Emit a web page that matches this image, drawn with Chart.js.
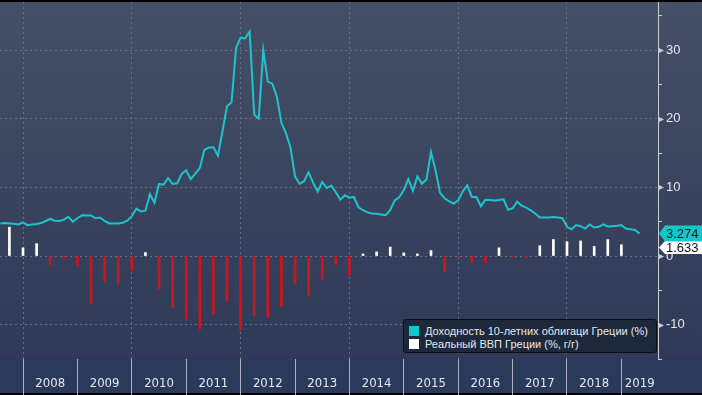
<!DOCTYPE html>
<html>
<head>
<meta charset="utf-8">
<script src="https://cdn.jsdelivr.net/npm/chart.js@4/dist/chart.umd.min.js"></script>
<style>
html,body{margin:0;padding:0;background:#000;}
#wrap{position:relative;width:702px;height:395px;overflow:hidden;}
canvas{display:block;}
#legend{position:absolute;left:403px;top:319px;width:254px;height:34px;background:#1e283b;border:1px solid #0b0e15;border-radius:3px;box-sizing:border-box;padding:4px 0 0 5px;font:11px "Liberation Sans",Arial,sans-serif;color:#e6e8ec;}
#legend .row{display:flex;align-items:center;height:13px;white-space:nowrap;}
#legend .sw{width:10px;height:10px;margin-right:6px;flex:none;}
</style>
</head>
<body>
<div id="wrap">
<canvas id="c" width="702" height="395"></canvas>
<div id="legend">
  <div class="row"><span class="sw" style="background:#12c8ca"></span><span>Доходность 10-летних облигаци Греции (%)</span></div>
  <div class="row"><span class="sw" style="background:#ffffff"></span><span>Реальный ВВП Греции (%, г/г)</span></div>
</div>
</div>
<script>
// ---- data ----
const monthStart = [2007, 8];   // first monthly observation (Aug 2007)
const yields = [
  4.75, 4.8, 4.75, 4.7, 4.6,
  4.9, 4.5, 4.6, 4.65, 4.8, 5.1, 5.4, 5.15, 5.1, 5.3,
  5.7, 5.0, 5.5, 5.95, 5.9, 5.9, 5.5, 5.6, 5.1, 4.75,
  4.75, 4.75, 4.85, 5.15, 5.8, 6.9, 6.5, 6.6, 9.0, 7.75,
  10.5, 10.4, 11.35, 10.5, 10.6, 11.95, 12.5, 11.2, 12.0, 12.8,
  15.45, 15.8, 15.85, 14.6, 18.15, 21.8, 22.4, 30.3, 31.8, 31.7,
  32.7, 20.6, 20.0, 30.0, 25.4, 25.1, 23.2, 19.4, 17.9, 15.8,
  11.6, 10.5, 10.9, 12.2, 10.65, 9.4, 10.8, 9.9, 10.25, 9.3,
  8.2, 8.85, 8.5, 8.6, 7.1, 6.7, 6.35, 6.2, 6.15, 6.05,
  5.95, 6.7, 8.1, 8.55, 9.6, 11.2, 9.5, 11.6, 10.55, 11.15,
  15.15, 12.5, 9.2, 8.4, 7.95, 7.65, 8.1, 9.4, 10.3, 8.6,
  8.6, 7.25, 8.2, 8.15, 8.1, 8.15, 8.25, 6.75, 6.95, 7.9,
  7.35, 7.05, 6.65, 6.2, 5.6, 5.6, 5.6, 5.7, 5.6, 5.5,
  4.25, 3.9, 4.5, 4.35, 4.0, 4.6, 4.15, 4.25, 4.6, 4.3,
  4.35, 4.4, 4.5, 4.0, 3.9, 3.8, 3.274
];
const quarterStart = [2007, 4];  // first quarterly observation (2007 Q4)
const gdp = [
  4.2, 1.2, 1.8, -1.3, -0.35, -1.4, -7.0, -3.8, -4.1, -2.1,
  0.5, -4.8, -7.5, -9.3, -10.6, -8.4, -6.6, -10.8, -8.7, -8.9,
  -7.3, -4.1, -5.85, -3.4, -1.2, -2.8, 0.3, 0.6, 1.3, 0.45,
  0.3, 0.8, -2.3, -0.2, -0.8, -0.9, 1.2, -0.2, -0.2, 1.5,
  2.4, 2.1, 2.2, 1.4, 2.4, 1.633
];
const yearLabels = ['2008','2009','2010','2011','2012','2013','2014','2015','2016','2017','2018','2019'];
const yTickValues = [-15,-10,-5,0,5,10,15,20,25,30,35];
const yMajor = [-10,0,10,20,30];

// categories (dates) built from the starting period
const months = yields.map((_, i) => {
  const t = monthStart[0]*12 + (monthStart[1]-1) + i;
  return Math.floor(t/12) + '-' + String(t%12 + 1).padStart(2,'0');
});
const quarters = gdp.map((_, i) => {
  const t = quarterStart[0]*4 + (quarterStart[1]-1) + i;
  return Math.floor(t/4) + '-Q' + (t%4 + 1);
});
const monthX = m => { const [y, mo] = m.split('-').map(Number); return y + (mo-1)/12; };
const quarterX = q => { const [y, qq] = q.split('-Q').map(Number); return y + (qq-1)/4; };

const X_MIN = 2007.577, X_MAX = 2019.673;
const GRID = '#66728a';
const AXIS = '#c9cdd5';
const TXT = '#e4e7ec';

const yearBounds = yearLabels.map(Number);
const labelPos = yearBounds.map(y => y === 2019 ? (2019 + X_MAX)/2 : y + 0.5);
const xTicks = [...yearBounds.map(v => ({value:v, kind:'b'})), ...labelPos.map((v,i) => ({value:v, kind:'l', label:yearLabels[i]}))]
  .sort((a,b) => a.value - b.value);
const isBound = v => yearBounds.some(b => Math.abs(b - v) < 1e-6);

const bgPlugin = {
  id: 'bg',
  beforeDraw(chart) {
    const ctx = chart.ctx, W = chart.width, H = chart.height, b = chart.chartArea.bottom;
    ctx.save();
    const g = ctx.createLinearGradient(0, 0, 0, b);
    g.addColorStop(0, '#454f66');
    g.addColorStop(1, '#2e3a57');
    ctx.fillStyle = g; ctx.fillRect(0, 0, W, b);
    ctx.fillStyle = '#2a3a5a'; ctx.fillRect(0, b, W, H - b);
    ctx.fillStyle = '#000'; ctx.fillRect(0, 0, W, 2); ctx.fillRect(0, H - 2, W, 2);
    ctx.restore();
  },
  afterDraw(chart) {
    const ctx = chart.ctx, ys = chart.scales.y, x0 = chart.chartArea.right;
    ctx.save();
    // major tick arrows
    ctx.fillStyle = AXIS;
    yMajor.forEach(v => {
      const p = Math.round(ys.getPixelForValue(v)) + 0.5;
      ctx.beginPath(); ctx.moveTo(x0, p - 3); ctx.lineTo(x0 + 6, p); ctx.lineTo(x0, p + 3); ctx.closePath(); ctx.fill();
    });
    // last value tags
    const tag = (yc, h, fill, text, color) => {
      ctx.fillStyle = fill;
      ctx.beginPath();
      ctx.moveTo(x0 + 1, yc); ctx.lineTo(x0 + 7, yc - h/2); ctx.lineTo(chart.width, yc - h/2);
      ctx.lineTo(chart.width, yc + h/2); ctx.lineTo(x0 + 7, yc + h/2); ctx.closePath(); ctx.fill();
      ctx.fillStyle = color; ctx.font = '13px "Liberation Sans", Arial, sans-serif';
      ctx.textBaseline = 'middle'; ctx.textAlign = 'left';
      ctx.fillText(text, x0 + 8, yc + 1);
    };
    const lastY = yields[yields.length - 1], lastG = gdp[gdp.length - 1];
    const yc1 = ys.getPixelForValue(lastY);
    const yc2 = Math.max(ys.getPixelForValue(lastG), yc1 + 14);
    tag(yc2, 13, '#ffffff', lastG.toFixed(3), '#111');
    tag(yc1, 16, '#16c6c9', lastY.toFixed(3), '#0b1d26');
    ctx.restore();
  }
};

new Chart(document.getElementById('c'), {
  type: 'bar',
  data: {
    datasets: [
      {
        type: 'line',
        label: 'Доходность 10-летних облигаци Греции (%)',
        data: months.map((m, i) => ({x: monthX(m), y: yields[i]})),
        borderColor: '#1ec4cc',
        borderWidth: 2,
        pointRadius: 0,
        tension: 0,
        fill: false,
        order: 1
      },
      {
        type: 'bar',
        label: 'Реальный ВВП Греции (%, г/г)',
        data: quarters.map((q, i) => ({x: quarterX(q), y: gdp[i]})),
        backgroundColor: c => (c.raw && c.raw.y >= 0) ? '#ffffff' : '#d0141d',
        borderWidth: 0,
        barThickness: 2,
        grouped: false,
        order: 2
      }
    ]
  },
  options: {
    responsive: false,
    animation: false,
    layout: {padding: {top: 2, left: 0, right: 0, bottom: 0}},
    plugins: {legend: {display: false}, tooltip: {enabled: false}},
    scales: {
      x: {
        type: 'linear', position: 'bottom', min: X_MIN, max: X_MAX, offset: false,
        afterBuildTicks: s => { s.ticks = xTicks.map(t => ({value: t.value})); },
        afterFit: s => { s.height = 36; s.paddingLeft = 0; s.paddingRight = 0; },
        ticks: {
          autoSkip: false, maxRotation: 0, minRotation: 0, padding: -19,
          color: TXT, font: {family: '"Liberation Sans Narrow", "DejaVu Sans Condensed", "Liberation Sans", sans-serif', size: 13},
          callback: v => { const t = xTicks.find(t => Math.abs(t.value - v) < 1e-6); return t && t.kind === 'l' ? t.label : ''; }
        },
        grid: {
          offset: false,
          drawOnChartArea: true, drawTicks: true, tickLength: 36, tickWidth: 1, tickBorderDash: [],
          lineWidth: 1,
          color: c => (c.tick && isBound(c.tick.value) && Math.round(c.tick.value) % 2 === 0) ? GRID : 'transparent',
          tickColor: c => (c.tick && isBound(c.tick.value)) ? '#aeb3bd' : 'transparent'
        },
        border: {display: false, dash: [2, 3]}
      },
      y: {
        type: 'linear', position: 'right', min: -15, max: 37,
        afterBuildTicks: s => { s.ticks = yTickValues.map(v => ({value: v})); },
        afterFit: s => { s.width = 44; s.paddingTop = 0; s.paddingBottom = 0; },
        ticks: {
          padding: 4, color: TXT,
          font: {family: '"Liberation Sans", Arial, sans-serif', size: 13},
          callback: v => (yMajor.includes(v) ? String(v) : '')
        },
        grid: {
          drawOnChartArea: true, drawTicks: true, tickLength: 4, tickWidth: 1, tickBorderDash: [],
          color: c => (c.tick && yMajor.includes(c.tick.value)) ? GRID : 'transparent',
          tickColor: AXIS
        },
        border: {display: true, color: AXIS, width: 1, dash: [2, 3]}
      }
    }
  },
  plugins: [bgPlugin]
});
</script>
</body>
</html>
